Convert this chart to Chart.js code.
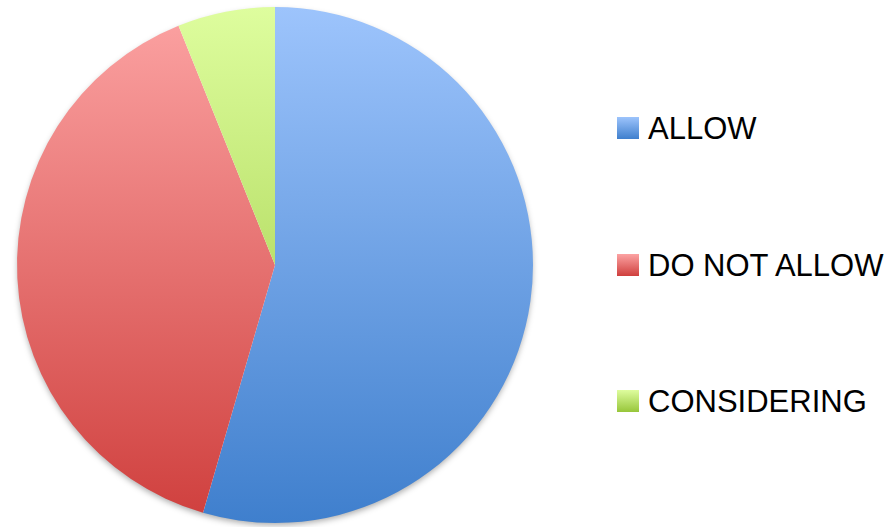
<!DOCTYPE html>
<html lang="en">
<head>
    <meta charset="UTF-8">
    <title>Allow / Do not allow</title>
    <script src="https://cdn.jsdelivr.net/npm/chart.js"></script>
    <style>
        html, body {
            margin: 0;
            padding: 0;
            background: #fff;
            width: 893px;
            height: 527px;
            overflow: hidden;
        }
        #wrap {
            position: absolute;
            left: 0;
            top: 0;
            width: 550px;
            height: 527px;
        }
        #legend {
            position: absolute;
            left: 617px;
            top: 0;
            font-family: "Liberation Sans", Arial, sans-serif;
            font-size: 31px;
            color: #000;
        }
        .item {
            position: absolute;
            left: 0;
            white-space: nowrap;
            height: 22px;
            line-height: 22px;
        }
        .box {
            display: inline-block;
            width: 22px;
            height: 22px;
            vertical-align: top;
            margin-right: 9px;
        }
        .label {
            display: inline-block;
            vertical-align: top;
            position: relative;
            top: 1px;
        }
    </style>
</head>
<body>
    <div id="wrap"><canvas id="pieChart"></canvas></div>
    <div id="legend"></div>

    <script>
        // data (share of answers, %)
        const labels = ['ALLOW', 'DO NOT ALLOW', 'CONSIDERING'];
        const values = [54.5, 39.4, 6.1];

        // gradient top / bottom colours per slice
        const topColors = ['#9dc4fc', '#fca3a3', '#defd9e'];
        const bottomColors = ['#3f7fcd', '#cf3f3d', '#97c63a'];

        // soft shadow under the whole pie
        const pieShadow = {
            id: 'pieShadow',
            beforeDatasetsDraw(chart) {
                const arc = chart.getDatasetMeta(0).data[0];
                if (!arc) return;
                const c = chart.ctx;
                c.save();
                c.shadowColor = 'rgba(0,0,0,0.35)';
                c.shadowBlur = 6;
                c.shadowOffsetY = 3;
                c.fillStyle = '#fff';
                c.beginPath();
                c.arc(arc.x, arc.y, arc.outerRadius - 1, 0, Math.PI * 2);
                c.fill();
                c.restore();
            }
        };

        function sliceGradient(context) {
            const chart = context.chart;
            const area = chart.chartArea;
            if (!area) return topColors[context.dataIndex];
            const g = chart.ctx.createLinearGradient(0, area.top, 0, area.bottom);
            g.addColorStop(0, topColors[context.dataIndex]);
            g.addColorStop(1, bottomColors[context.dataIndex]);
            return g;
        }

        const ctx = document.getElementById('pieChart').getContext('2d');
        const pieChart = new Chart(ctx, {
            type: 'pie',
            data: {
                labels: labels,
                datasets: [{
                    data: values,
                    backgroundColor: sliceGradient,
                    borderWidth: 0,
                    hoverOffset: 0
                }]
            },
            options: {
                responsive: true,
                maintainAspectRatio: false,
                animation: false,
                layout: {
                    padding: { top: 7, bottom: 4, left: 0, right: 0 }
                },
                plugins: {
                    legend: { display: false },
                    tooltip: { enabled: false }
                }
            },
            plugins: [pieShadow]
        });

        // legend on the right
        const legendTops = [117, 254, 390];
        const legend = document.getElementById('legend');
        labels.forEach((name, i) => {
            const item = document.createElement('div');
            item.className = 'item';
            item.style.top = legendTops[i] + 'px';
            const box = document.createElement('span');
            box.className = 'box';
            box.style.background = 'linear-gradient(' + topColors[i] + ', ' + bottomColors[i] + ')';
            const text = document.createElement('span');
            text.className = 'label';
            text.textContent = name;
            item.appendChild(box);
            item.appendChild(text);
            legend.appendChild(item);
        });
    </script>
</body>
</html>
